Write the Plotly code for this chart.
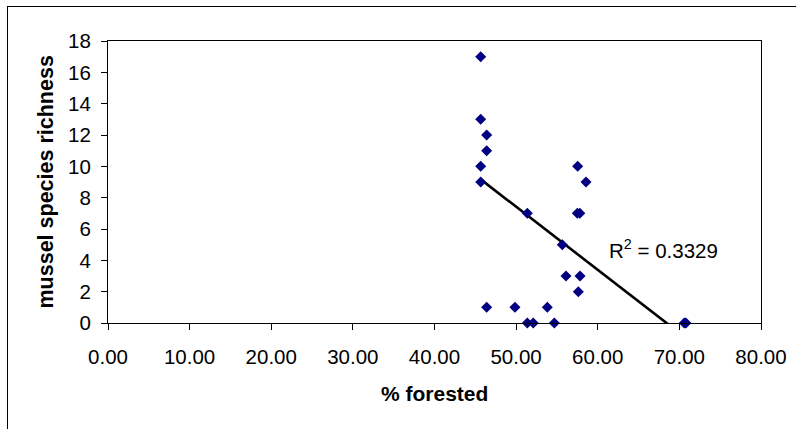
import plotly.graph_objects as go

# Data
forested = [45.66, 45.66, 46.39, 46.39, 45.66, 45.66, 57.54, 58.56, 51.37, 57.50,
            57.80, 55.66, 56.11, 57.83, 57.62, 46.39, 49.86, 53.82, 51.37, 52.10,
            54.68, 70.60, 70.80]
richness = [17, 13, 12, 11, 10, 9, 10, 9, 7, 7,
            7, 5, 3, 3, 2, 1, 1, 1, 0, 0,
            0, 0, 0]

# Linear trendline as drawn on the chart
trend_slope = -0.4026
trend_intercept = 27.55
r_squared = 0.3329

x_ticks = [0, 10, 20, 30, 40, 50, 60, 70, 80]
y_ticks = [0, 2, 4, 6, 8, 10, 12, 14, 16, 18]

W, H = 796, 429
ML, MR, MT, MB = 108, 35, 41, 106
pw, ph = W - ML - MR, H - MT - MB

def px_x(p):
    return (p - ML) / pw

def px_y(p):
    return (H - MB - p) / ph

FONT = "Liberation Sans, Arial, sans-serif"

tx = [min(forested), max(forested)]
ty = [trend_intercept + trend_slope * v for v in tx]

fig = go.Figure()
fig.add_trace(go.Scatter(
    x=tx, y=ty, mode="lines",
    line=dict(color="black", width=2.6),
    hoverinfo="skip", showlegend=False,
))
fig.add_trace(go.Scatter(
    x=forested, y=richness, mode="markers",
    marker=dict(symbol="diamond", size=8.5, color="#000080",
                line=dict(width=0)),
    cliponaxis=False, showlegend=False,
))

axis_common = dict(
    showline=True, linecolor="black", linewidth=1, mirror=True,
    ticks="outside", ticklen=6, tickcolor="black", tickwidth=1,
    showgrid=False, zeroline=False,
    tickfont=dict(family=FONT, size=20.5, color="black"),
)

fig.update_xaxes(range=[0, 80], tickvals=x_ticks,
                 ticktext=[f"{v:.2f}" for v in x_ticks],
                 ticklabelstandoff=9, **axis_common)
fig.update_yaxes(range=[0, 18], tickvals=y_ticks,
                 ticktext=[str(v) for v in y_ticks],
                 ticklabelstandoff=6, **axis_common)

fig.update_layout(
    width=W, height=H,
    margin=dict(l=ML, r=MR, t=MT, b=MB, autoexpand=False),
    paper_bgcolor="white", plot_bgcolor="white",
    font=dict(family=FONT, size=20, color="black"),
    shapes=[
        dict(type="line", xref="paper", yref="paper", layer="above",
             x0=px_x(7), x1=px_x(W + 10), y0=px_y(6.5), y1=px_y(6.5),
             line=dict(color="black", width=1)),
        dict(type="line", xref="paper", yref="paper", layer="above",
             x0=px_x(7.5), x1=px_x(7.5), y0=px_y(6), y1=px_y(H + 10),
             line=dict(color="black", width=1)),
    ],
    annotations=[
        dict(text="<b>% forested</b>", xref="paper", yref="paper",
             x=0.5, y=px_y(393), xanchor="center", yanchor="middle",
             showarrow=False, font=dict(family=FONT, size=21, color="black")),
        dict(text="<b>mussel species richness</b>", xref="paper", yref="paper",
             x=px_x(45.5), y=0.5, xanchor="center", yanchor="middle",
             textangle=-90, showarrow=False,
             font=dict(family=FONT, size=21.5, color="black")),
        dict(text=f"R<sup>2</sup> = {r_squared:.4f}", xref="x", yref="y",
             x=61.1, y=4.75, xanchor="left", yanchor="middle",
             showarrow=False, font=dict(family=FONT, size=20.5, color="black")),
    ],
)

fig.write_html(
    "out.html",
    config={"displayModeBar": False},
    post_script=(
        "var s=document.createElement('style');"
        "s.textContent='html,body{margin:0;padding:0;overflow:hidden;}';"
        "document.head.appendChild(s);"
    ),
)
